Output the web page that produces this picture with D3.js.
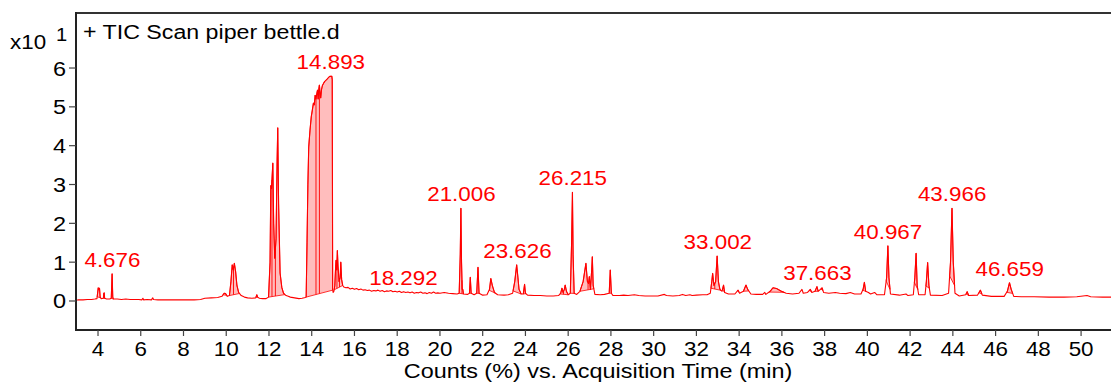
<!DOCTYPE html>
<html>
<head>
<meta charset="utf-8">
<script src="https://cdn.jsdelivr.net/npm/d3@7/dist/d3.min.js"></script>
<style>
  body { margin: 0; background: #fff; }
  svg { display: block; font-family: "Liberation Sans", Arial, sans-serif; }
</style>
</head>
<body>
<svg id="chart" width="1111" height="382"></svg>
<script>
// TIC trace, [time (min), counts x10^1]
const traceEarly = [
  [2.97,0.02],[3.1,0.03],[3.3,0.03],[3.5,0.04],[3.7,0.04],[3.85,0.05],[3.95,0.06],[3.98,0.2],[4.01,0.34],
  [4.04,0.29],[4.07,0.33],[4.1,0.1],[4.15,0.06],[4.25,0.07],[4.27,0.2],[4.29,0.21],[4.31,0.07],[4.4,0.05],
  [4.55,0.05],[4.62,0.07],[4.66,0.7],[4.69,0.1],[4.72,0.05],[4.9,0.05],[5.1,0.04],[5.3,0.05],[5.5,0.04],
  [5.7,0.04],[5.9,0.04],[6.05,0.03],[6.1,0.07],[6.13,0.03],[6.3,0.04],[6.5,0.03],[6.56,0.08],[6.6,0.04],
  [6.8,0.03],[7.0,0.03],[7.3,0.03],[7.6,0.03],[7.9,0.03],[8.2,0.03],[8.5,0.03],[8.8,0.04]
];
const traceMain = [
  [9.0,0.07],[9.3,0.08],[9.6,0.09],[9.8,0.12],[9.9,0.2],[9.97,0.19],[10.05,0.12],[10.15,0.14],[10.22,0.5],
  [10.28,0.93],[10.33,0.8],[10.38,0.97],[10.44,0.75],[10.5,0.4],[10.58,0.22],[10.7,0.14],[10.85,0.1],
  [11.0,0.08],[11.2,0.07],[11.38,0.08],[11.43,0.16],[11.47,0.1],[11.55,0.07],[11.7,0.06],[11.85,0.06],
  [11.98,0.1],[12.05,1.0],[12.085,2.97],[12.12,2.9],[12.18,3.55],[12.22,2.0],[12.27,1.1],[12.33,1.6],
  [12.38,3.6],[12.41,4.46],[12.45,2.5],[12.52,0.72],[12.6,0.35],[12.68,0.2],[12.8,0.14],[12.9,0.12],
  [13.0,0.1],[13.2,0.08],[13.4,0.06],[13.55,0.07],[13.7,0.09],
  [13.74,0.1],[13.78,1.5],[13.82,3.0],[13.86,3.97],[13.92,4.4],[13.98,4.75],[14.03,4.92],[14.08,5.1],
  [14.12,5.05],[14.16,5.3],[14.2,5.2],[14.24,5.35],[14.27,5.43],[14.3,5.2],[14.33,5.45],[14.36,5.56],
  [14.4,5.3],[14.42,5.23],[14.46,5.45],[14.5,5.55],[14.55,5.6],[14.6,5.65],[14.66,5.68],[14.71,5.71],
  [14.76,5.74],[14.81,5.77],[14.86,5.79],[14.9,5.78],[14.94,5.79],[14.96,5.7],[14.98,0.3],[15.0,0.22],
  [15.04,0.25],[15.08,0.4],[15.12,0.9],[15.14,1.05],[15.17,0.8],[15.2,1.3],[15.23,0.9],[15.28,0.5],
  [15.33,0.6],[15.36,1.0],[15.4,0.55],[15.45,0.4]
];
const traceMid = [
  [15.5,0.36],[15.6,0.34],[15.7,0.35],[15.8,0.31],[15.9,0.33],[16.0,0.3],[16.1,0.32],[16.2,0.29],[16.3,0.31],
  [16.4,0.28],[16.5,0.29],[16.6,0.27],[16.7,0.28],[16.8,0.25],[16.9,0.27],[17.0,0.26],[17.1,0.28],[17.2,0.25],
  [17.3,0.27],[17.4,0.24],[17.5,0.26],[17.6,0.25],[17.7,0.27],[17.8,0.24],[17.9,0.25],[18.0,0.23],[18.1,0.25],
  [18.2,0.22],[18.3,0.24],[18.4,0.22],[18.5,0.23],[18.6,0.21],[18.7,0.23],[18.8,0.2],[18.9,0.22],[19.0,0.21],
  [19.1,0.23],[19.2,0.2],[19.3,0.21],[19.4,0.19],[19.5,0.22],[19.6,0.2],[19.7,0.23],[19.8,0.2],[19.9,0.21],
  [20.0,0.2],[20.2,0.22],[20.4,0.2],[20.6,0.19],[20.8,0.18],[20.9,0.2],[20.95,1.2],[20.98,2.39],[21.01,1.0],
  [21.04,0.3],[21.07,0.3],[21.1,0.18],[21.3,0.17],[21.38,0.2],[21.42,0.61],[21.46,0.2],[21.6,0.16],
  [21.72,0.2],[21.78,0.87],[21.83,0.2],[22.0,0.15],[22.2,0.16],[22.32,0.3],[22.38,0.58],[22.45,0.4],
  [22.55,0.22],[22.7,0.16],[23.0,0.15],[23.2,0.16],[23.4,0.2],[23.5,0.5],[23.59,0.93],[23.65,0.6],
  [23.7,0.3],[23.8,0.18],[23.9,0.18],[23.96,0.43],[24.0,0.2],[24.1,0.15],[24.4,0.14],[24.7,0.14],
  [25.0,0.13],[25.3,0.13],[25.55,0.14],[25.65,0.2],[25.71,0.33],[25.76,0.22],[25.82,0.3],[25.86,0.41],
  [25.92,0.25],[26.0,0.16],[26.1,0.2],[26.16,1.5],[26.2,2.8],[26.23,1.2],[26.28,0.2],[26.4,0.17],
  [26.55,0.25],[26.7,0.5],[26.83,0.97],[26.9,0.5],[26.95,0.45],[26.99,0.63],[27.04,0.3],[27.1,0.8],
  [27.13,1.14],[27.17,0.4],[27.25,0.17],[27.5,0.16],[27.7,0.17],[27.92,0.2],[27.97,0.8],[28.02,0.2],
  [28.1,0.14],[28.4,0.14],[28.6,0.15],[28.8,0.14],[29.1,0.16],[29.3,0.14],[29.6,0.13],[29.9,0.13],
  [30.2,0.13],[30.5,0.17],[30.6,0.14],[30.9,0.13],[31.2,0.14],[31.35,0.17],[31.5,0.14],[31.7,0.16],
  [31.8,0.14],[32.0,0.15],[32.3,0.16],[32.5,0.16]
];
const traceLate = [
  [32.65,0.2],[32.72,0.5],[32.76,0.71],[32.82,0.4],[32.9,0.5],[32.97,1.16],[33.03,0.5],[33.1,0.3],
  [33.2,0.25],[33.27,0.41],[33.32,0.22],[33.5,0.18],[33.8,0.18],[33.95,0.28],[34.02,0.2],[34.2,0.25],
  [34.32,0.41],[34.4,0.3],[34.55,0.18],[34.8,0.17],[35.1,0.17],[35.2,0.22],[35.25,0.17],[35.45,0.25],
  [35.58,0.34],[35.75,0.32],[35.95,0.26],[36.2,0.2],[36.5,0.18],[36.8,0.2],[36.94,0.3],[37.0,0.2],
  [37.2,0.22],[37.33,0.3],[37.4,0.22],[37.55,0.25],[37.64,0.37],[37.7,0.25],[37.88,0.34],[37.95,0.22],
  [38.2,0.2],[38.5,0.22],[38.7,0.2],[39.0,0.19],[39.2,0.22],[39.4,0.18],[39.7,0.18],[39.8,0.3],
  [39.86,0.48],[39.92,0.25],[40.05,0.22],[40.15,0.18],[40.34,0.22],[40.45,0.16],[40.8,0.16],[40.9,0.6],
  [40.96,1.42],[41.01,0.6],[41.08,0.18],[41.5,0.15],[41.81,0.18],[41.9,0.14],[42.15,0.16],[42.22,0.6],
  [42.28,1.23],[42.33,0.4],[42.4,0.16],[42.7,0.16],[42.76,0.5],[42.82,0.99],[42.88,0.4],[42.95,0.15],
  [43.5,0.14],[43.8,0.2],[43.89,1.0],[43.96,2.39],[44.02,1.0],[44.1,0.2],[44.3,0.13],[44.6,0.16],
  [44.67,0.24],[44.74,0.14],[45.15,0.15],[45.29,0.28],[45.38,0.15],[45.8,0.12],[46.4,0.12],[46.55,0.25],
  [46.65,0.47],[46.73,0.3],[46.85,0.12],[47.2,0.11],[47.8,0.11],[48.5,0.1],[49.2,0.1],[49.8,0.11],
  [50.28,0.14],[50.45,0.11],[51.0,0.1],[51.4,0.1]
];

// integrated peak groups: [start, ...drop lines, end] (min); one baseline per group
const integrations = [
  [3.96,4.12],[4.25,4.32],[4.62,4.72],[9.85,10.02],[10.15,10.34,10.62],[11.39,11.48],
  [11.98,12.14,12.3,12.75],[13.74,14.2,14.36,14.985],[15.05,15.18,15.3,15.45],[20.9,21.03,21.1],
  [21.38,21.46],[21.72,21.84],[22.3,22.6],[23.42,23.8],[23.9,24.02],[25.62,25.78,26.0],[26.1,26.3],
  [26.55,26.93,27.05,27.2],[27.92,28.02],[32.68,32.86,33.15],[33.22,33.32],[33.92,34.0],[34.2,34.45],
  [35.4,36.1],[37.28,37.38],[37.55,37.7],[37.82,37.92],[39.78,39.93],[40.88,41.06],[42.2,42.36],
  [42.74,42.9],[43.85,44.08],[44.62,44.74],[45.22,45.36],[46.52,46.8]
];

const peakLabels = ["4.676","14.893","18.292","21.006","23.626","26.215","33.002","37.663","40.967","43.966","46.659"];
const xTicks = [4,6,8,10,12,14,16,18,20,22,24,26,28,30,32,34,36,38,40,42,44,46,48,50];
const yTicks = [0,1,2,3,4,5,6];

const trace = traceEarly.concat(traceMain, traceMid, traceLate);

const plotLeft = 76, plotRight = 1111, plotTop = 13, plotBottom = 330;
const red = "#ff0000";

const svg = d3.select("#chart");

const x = d3.scaleLinear().domain([2.97, 51.4]).range([plotLeft, plotRight]);
const y = d3.scaleLinear().domain([-0.747, 7.417]).range([plotBottom, plotTop]);

const valueAt = t => {
  const i = d3.bisector(d => d[0]).left(trace, t);
  if (i <= 0) return trace[0][1];
  if (i >= trace.length) return trace[trace.length - 1][1];
  const a = trace[i - 1], b = trace[i];
  return a[1] + (b[1] - a[1]) * (t - a[0]) / (b[0] - a[0]);
};

function stretchedText(g, px, py, txt, size, anchor, color, sx) {
  return g.append("text")
    .attr("transform", `translate(${px},${py}) scale(${sx || 1.12},1)`)
    .attr("text-anchor", anchor)
    .attr("font-size", size)
    .attr("fill", color || "#000")
    .text(txt);
}

// integrated areas: trace above a straight baseline, split by drop lines
const plot = svg.append("g");
integrations.forEach(group => {
  const s = group[0], e = group[group.length - 1];
  const v0 = valueAt(s), v1 = valueAt(e);
  const base = t => v0 + (v1 - v0) * (t - s) / (e - s);
  const pts = [[s, v0]].concat(trace.filter(d => d[0] > s && d[0] < e), [[e, v1]]);
  const poly = pts.map(d => [x(d[0]), y(d[1])]);
  poly.push([x(e), y(base(e))]);
  plot.append("path")
    .attr("d", d3.line()(poly) + "Z")
    .attr("fill", "#ffbdbd")
    .attr("stroke", red)
    .attr("stroke-width", 0.8)
    .attr("stroke-linejoin", "round");
  group.slice(1, -1).forEach(t => {
    plot.append("line")
      .attr("x1", x(t)).attr("x2", x(t))
      .attr("y1", y(valueAt(t))).attr("y2", y(base(t)))
      .attr("stroke", red).attr("stroke-width", 0.9);
  });
});

plot.append("path")
  .datum(trace)
  .attr("fill", "none")
  .attr("stroke", red)
  .attr("stroke-width", 1.1)
  .attr("stroke-linejoin", "round")
  .attr("d", d3.line().x(d => x(d[0])).y(d => y(d[1])));

// peak labels
peakLabels.forEach(lbl => {
  const t = +lbl;
  const apex = d3.max(trace.filter(d => Math.abs(d[0] - t) <= 0.1), d => d[1]);
  stretchedText(svg, x(t), y(apex) - 7, lbl, 20, "middle", red);
});

// frame
svg.append("line").attr("x1", plotLeft).attr("x2", plotRight).attr("y1", plotTop).attr("y2", plotTop)
  .attr("stroke", "#333").attr("stroke-width", 2);
svg.append("line").attr("x1", plotLeft).attr("x2", plotLeft).attr("y1", plotTop - 1).attr("y2", plotBottom + 1)
  .attr("stroke", "#222").attr("stroke-width", 2);
svg.append("line").attr("x1", plotLeft).attr("x2", plotRight).attr("y1", plotBottom).attr("y2", plotBottom)
  .attr("stroke", "#222").attr("stroke-width", 2);

// x axis
const xg = svg.append("g");
xTicks.forEach(v => {
  xg.append("line").attr("x1", x(v)).attr("x2", x(v)).attr("y1", plotBottom).attr("y2", plotBottom + 6)
    .attr("stroke", "#444").attr("stroke-width", 1.2);
  stretchedText(xg, x(v), 355.5, String(v), 20, "middle", "#000", 1.12);
});
stretchedText(svg, 598, 377.8, "Counts (%) vs. Acquisition Time (min)", 19.5, "middle", "#000", 1.2);

// y axis
const yg = svg.append("g");
yTicks.forEach(v => {
  yg.append("line").attr("x1", plotLeft - 7).attr("x2", plotLeft).attr("y1", y(v)).attr("y2", y(v))
    .attr("stroke", "#444").attr("stroke-width", 1.2);
  stretchedText(yg, 66, y(v) + 7.5, String(v), 21, "end");
});
stretchedText(svg, 10, 49, "x10", 20, "start");
stretchedText(svg, 56, 41, "1", 18, "start");

stretchedText(svg, 83, 39, "+ TIC Scan piper bettle.d", 20, "start", "#000", 1.16);
</script>
</body>
</html>
